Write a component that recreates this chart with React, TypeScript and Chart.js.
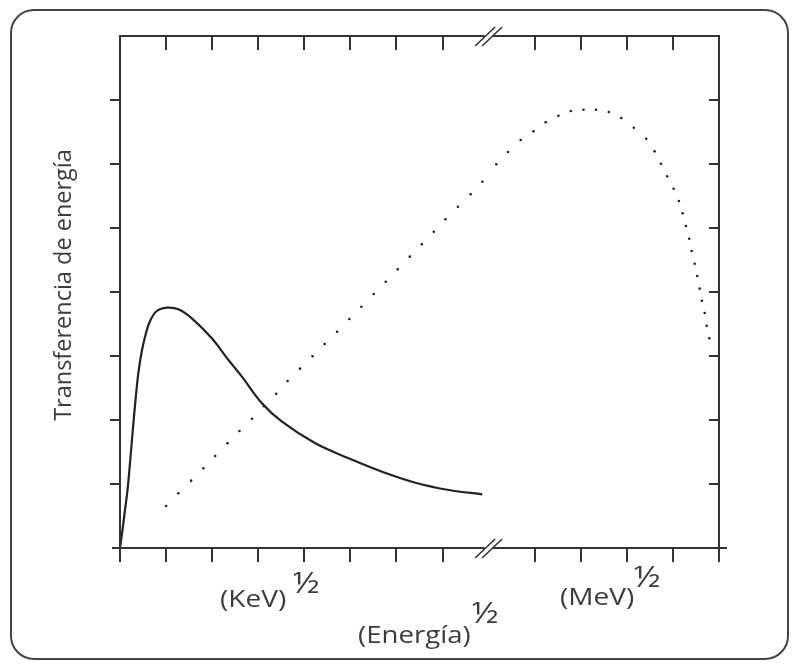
import React, { useEffect, useRef } from "react";
import { Chart, registerables } from "chart.js";

Chart.register(...registerables);

// ---- data (x in tick units, y in tick units) ----
const lowX = [0, 0.054, 0.109, 0.163, 0.217, 0.278, 0.337, 0.398, 0.478, 0.565, 0.652, 0.798, 1.015, 1.267, 1.559, 1.993, 2.354, 2.646, 3.08, 3.515, 4.239, 4.963, 5.689, 6.413, 7.137, 7.863];
const lowY = [0, 0.281, 0.594, 0.906, 1.328, 1.844, 2.313, 2.734, 3.094, 3.359, 3.547, 3.703, 3.755, 3.73, 3.589, 3.277, 2.938, 2.677, 2.261, 1.973, 1.636, 1.402, 1.192, 1.02, 0.906, 0.839];

const highX = [1.0, 1.267, 1.543, 1.811, 2.065, 2.333, 2.593, 2.863, 3.124, 3.391, 3.637, 3.907, 4.18, 4.441, 4.711, 4.978, 5.239, 5.507, 5.767, 6.028, 6.289, 6.55, 6.811, 7.065, 7.333, 7.609, 7.863, 8.167, 8.42, 8.696, 8.972, 9.239, 9.515, 9.783, 10.059, 10.333, 10.609, 10.88, 11.152, 11.42, 11.602, 11.739, 11.876, 12.015, 12.13, 12.211, 12.283, 12.354, 12.407, 12.472, 12.528, 12.58, 12.63, 12.689, 12.733, 12.789];
const highY = [0.656, 0.855, 1.052, 1.245, 1.438, 1.636, 1.828, 2.02, 2.214, 2.411, 2.609, 2.802, 2.995, 3.188, 3.38, 3.578, 3.77, 3.969, 4.161, 4.355, 4.552, 4.745, 4.942, 5.136, 5.333, 5.527, 5.723, 5.995, 6.188, 6.375, 6.511, 6.652, 6.755, 6.828, 6.848, 6.848, 6.813, 6.719, 6.567, 6.395, 6.198, 6.005, 5.808, 5.614, 5.422, 5.23, 5.031, 4.833, 4.641, 4.442, 4.25, 4.052, 3.864, 3.672, 3.473, 3.277];

const xTicksTop = [1, 2, 3, 4, 5, 6, 7, 9, 10, 11, 12];
const xTicksBottom = [0, 1, 2, 3, 4, 5, 6, 7, 9, 10, 11, 12, 13];
const yTicks = [1, 2, 3, 4, 5, 6, 7];
const axisBreak = 8;
const xMax = 13;
const yMax = 8;

const yTitle = "Transferencia de energía";
const keVLabel = "(KeV)";
const meVLabel = "(MeV)";
const energyLabel = "(Energía)";
const half = "½";

const INK = "#333333";
const TEXT = "#3c3c3c";
const FONT = '"Open Sans", "DejaVu Sans", sans-serif';

function stretchedText(ctx: CanvasRenderingContext2D, text: string, x: number, y: number, size: number, sx: number, align: CanvasTextAlign) {
  ctx.save();
  ctx.translate(x, y);
  ctx.scale(sx, 1);
  ctx.font = `${size}px ${FONT}`;
  ctx.textAlign = align;
  ctx.textBaseline = "middle";
  ctx.fillText(text, 0, 0);
  ctx.restore();
}

const framePlugin = {
  id: "frame",
  afterDraw(chart: any) {
    const ctx = chart.ctx as CanvasRenderingContext2D;
    const xs = chart.scales.x;
    const ys = chart.scales.y;
    const L = xs.getPixelForValue(0);
    const R = xs.getPixelForValue(xMax);
    const T = ys.getPixelForValue(yMax);
    const B = ys.getPixelForValue(0);
    ctx.save();
    ctx.strokeStyle = INK;
    ctx.lineWidth = 2;
    ctx.lineCap = "butt";
    // frame
    ctx.beginPath();
    ctx.moveTo(L, T); ctx.lineTo(R, T);
    ctx.moveTo(L - 8, B); ctx.lineTo(R + 8, B);
    ctx.moveTo(L, T - 1); ctx.lineTo(L, B + 14);
    ctx.moveTo(R, T - 1); ctx.lineTo(R, B + 14);
    ctx.stroke();
    // ticks
    ctx.beginPath();
    xTicksTop.forEach((v) => {
      const p = Math.round(xs.getPixelForValue(v));
      ctx.moveTo(p, T); ctx.lineTo(p, T + 14);
    });
    xTicksBottom.forEach((v) => {
      const p = Math.round(xs.getPixelForValue(v));
      ctx.moveTo(p, B); ctx.lineTo(p, B + 14);
    });
    yTicks.forEach((v) => {
      const p = Math.round(ys.getPixelForValue(v));
      ctx.moveTo(L - 10, p); ctx.lineTo(L, p);
      ctx.moveTo(R - 10, p); ctx.lineTo(R, p);
    });
    ctx.stroke();
    // axis breaks
    const bx = xs.getPixelForValue(axisBreak);
    [T, B].forEach((yy) => {
      ctx.fillStyle = "#ffffff";
      ctx.fillRect(bx - 4, yy - 2, 8, 4);
      ctx.beginPath();
      ctx.lineWidth = 1.6;
      [-3.5, 3.5].forEach((d) => {
        ctx.moveTo(bx + d - 10, yy + 10);
        ctx.lineTo(bx + d + 10, yy - 9);
      });
      ctx.stroke();
    });
    // texts
    ctx.fillStyle = TEXT;
    stretchedText(ctx, keVLabel, 220, 600, 23, 1.22, "left");
    stretchedText(ctx, meVLabel, 560, 598, 23, 1.22, "left");
    stretchedText(ctx, energyLabel, 358, 636, 23, 1.2, "left");
    stretchedText(ctx, half, 306, 584, 30, 1.15, "center");
    stretchedText(ctx, half, 647, 578, 30, 1.15, "center");
    stretchedText(ctx, half, 485, 614, 30, 1.15, "center");
    // y title
    ctx.save();
    ctx.translate(64, 285);
    ctx.rotate(-Math.PI / 2);
    ctx.textAlign = "center";
    ctx.textBaseline = "middle";
    ctx.font = `23.5px ${FONT}`;
    ctx.fillText(yTitle, 0, 0);
    ctx.restore();
    ctx.restore();
  },
};

export default function App() {
  const ref = useRef<HTMLCanvasElement | null>(null);
  useEffect(() => {
    if (!ref.current) return;
    const chart = new Chart(ref.current, {
      type: "scatter",
      data: {
        datasets: [
          {
            label: "low",
            data: lowX.map((x, i) => ({ x, y: lowY[i] })),
            showLine: true,
            borderColor: "#222222",
            borderWidth: 2.2,
            pointRadius: 0,
            tension: 0.35,
            fill: false,
          },
          {
            label: "high",
            data: highX.map((x, i) => ({ x, y: highY[i] })),
            showLine: false,
            pointRadius: 1.3,
            pointBorderWidth: 0,
            pointBackgroundColor: "#222222",
          },
        ],
      },
      options: {
        responsive: false,
        animation: false,
        layout: { padding: { left: 120, top: 36, right: 74, bottom: 116 } },
        plugins: { legend: { display: false }, tooltip: { enabled: false }, title: { display: false } },
        scales: {
          x: { type: "linear", min: 0, max: xMax, display: false },
          y: { type: "linear", min: 0, max: yMax, display: false },
        },
      },
      plugins: [framePlugin],
    });
    return () => chart.destroy();
  }, []);
  return (
    <div style={{ position: "fixed", left: 0, top: 0, width: 793, height: 664, background: "#fff" }}>
      <div
        style={{
          position: "absolute",
          left: 10,
          top: 9,
          width: 779,
          height: 651,
          border: "2px solid #444",
          borderRadius: 24,
          boxSizing: "border-box",
        }}
      />
      <canvas ref={ref} width={793} height={664} style={{ position: "absolute", left: 0, top: 0 }} />
    </div>
  );
}
